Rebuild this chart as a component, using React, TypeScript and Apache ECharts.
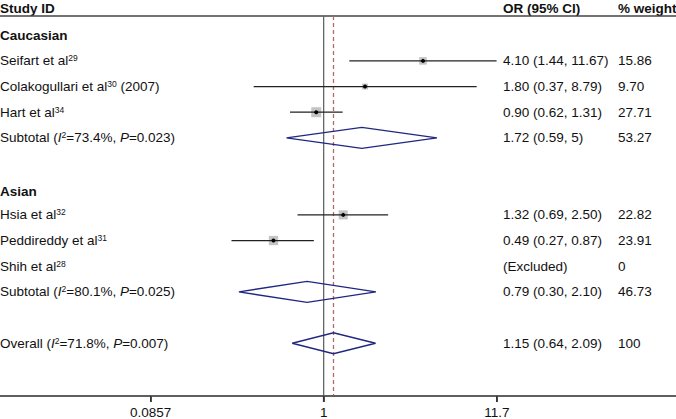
import React, { useEffect, useRef } from "react";
import * as echarts from "echarts";

// ---- data ----
const groupNames = ["Caucasian", "Asian"];
const studyNames = ["Seifart et al", "Colakogullari et al", "Hart et al", "Hsia et al", "Peddireddy et al", "Shih et al"];
const studyRefs = ["29", "30", "34", "32", "31", "28"];
const studySuffix = ["", " (2007)", "", "", "", ""];
const studyOR = [4.10, 1.80, 0.90, 1.32, 0.49, null];
const studyLo = [1.44, 0.37, 0.62, 0.69, 0.27, null];
const studyHi = [11.67, 8.79, 1.31, 2.50, 0.87, null];
const studyCI = ["4.10 (1.44, 11.67)", "1.80 (0.37, 8.79)", "0.90 (0.62, 1.31)", "1.32 (0.69, 2.50)", "0.49 (0.27, 0.87)", "(Excluded)"];
const studyWeight = ["15.86", "9.70", "27.71", "22.82", "23.91", "0"];

const pooledNames = ["Subtotal", "Subtotal", "Overall"];
const pooledI2 = ["73.4%", "80.1%", "71.8%"];
const pooledP = ["0.023", "0.025", "0.007"];
const pooledOR = [1.72, 0.79, 1.15];
const pooledLo = [0.59, 0.30, 0.64];
const pooledHi = [5, 2.10, 2.09];
const pooledCI = ["1.72 (0.59, 5)", "0.79 (0.30, 2.10)", "1.15 (0.64, 2.09)"];
const pooledWeight = ["53.27", "46.73", "100"];

const tickValues = [0.0857, 1, 11.7];
const tickLabels = ["0.0857", "1", "11.7"];
const headers = ["Study ID", "OR (95% CI)", "% weight"];

// ---- layout (row slots, not data) ----
const groupRows = [0, 6.1];
const studyRows = [1, 2, 3, 7, 8, 9];
const pooledRows = [4, 10, 12];

const FONT = "'Liberation Sans', Arial, Helvetica, sans-serif";
const FS = 13.5;
const L = Math.log10;

export default function App() {
  const ref = useRef<HTMLDivElement>(null);
  useEffect(() => {
    document.body.style.margin = "0";
    const chart = echarts.init(ref.current!, null, { renderer: "svg" });
    const W = 676;
    const COL_CI = 503;
    const COL_W = 618;
    const X_MIN = -1.997;
    const X_MAX = 2.174;
    const Y_MIN = -1.372;
    const rich = {
      sup: { fontSize: 8.5, verticalAlign: "top", lineHeight: 9, fontFamily: FONT, fill: "#111" },
      it: { fontStyle: "italic", fontSize: FS, fontFamily: FONT, fill: "#111" },
      b: { fontWeight: "bold", fontSize: FS, fontFamily: FONT, fill: "#111" },
    };

    const textRows: any[] = [];
    groupNames.forEach((g, i) => textRows.push([groupRows[i], `{b|${g}}`, "", ""]));
    studyNames.forEach((n, i) =>
      textRows.push([studyRows[i], `${n}{sup|${studyRefs[i]}}${studySuffix[i]}`, studyCI[i], studyWeight[i]])
    );
    pooledNames.forEach((n, i) =>
      textRows.push([pooledRows[i], `${n} ({it|I}{sup|2}=${pooledI2[i]}, {it|P}=${pooledP[i]})`, pooledCI[i], pooledWeight[i]])
    );

    const studyData = studyOR
      .map((v, i) => (v == null ? null : [L(v), L(studyLo[i]!), L(studyHi[i]!), studyRows[i], parseFloat(studyWeight[i])]))
      .filter(Boolean);
    const pooledData = pooledOR.map((v, i) => [L(v), L(pooledLo[i]), L(pooledHi[i]), pooledRows[i]]);

    const TOP_ROW = -0.75;
    const BOTTOM_ROW = 14.057;

    const baseGraphic: any[] = [
      { type: "text", x: 0, y: 1, style: { text: headers[0], font: `bold ${FS}px ${FONT}`, fill: "#111" } },
      { type: "text", x: COL_CI, y: 1, style: { text: headers[1], font: `bold ${FS}px ${FONT}`, fill: "#111" } },
      { type: "text", x: COL_W, y: 1, style: { text: headers[2], font: `bold ${FS}px ${FONT}`, fill: "#111" } },
      { type: "line", shape: { x1: 0, y1: 16, x2: W, y2: 16 }, style: { stroke: "#444", lineWidth: 1.3 } },
    ];

    const option: any = {
      animation: false,
      grid: { left: 0, right: 0, top: 0, bottom: 22, containLabel: false },
      xAxis: {
        type: "value",
        position: "bottom",
        min: X_MIN,
        max: X_MAX,
        splitLine: { show: false },
        axisLine: { show: true, onZero: false, lineStyle: { color: "#555", width: 1.6 } },
        axisTick: { show: true, customValues: tickValues.map(L), length: 6, lineStyle: { color: "#333", width: 1.5 } },
        axisLabel: {
          show: true,
          customValues: tickValues.map(L),
          margin: 9,
          fontSize: FS,
          fontFamily: FONT,
          color: "#111",
          formatter: (v: number) => {
            let best = 0;
            tickValues.forEach((t, i) => {
              if (Math.abs(L(t) - v) < Math.abs(L(tickValues[best]) - v)) best = i;
            });
            return tickLabels[best];
          },
        },
      },
      yAxis: { type: "value", inverse: true, min: Y_MIN, max: BOTTOM_ROW, show: false },
      graphic: baseGraphic,
      series: [
        {
          // reference line at OR=1 and dashed overall-estimate line
          type: "custom",
          clip: false,
          data: [[0, 0], [L(pooledOR[2]), 1]],
          renderItem: (params: any, api: any) => {
            const x = api.value(0);
            const kind = api.value(1);
            const p1 = api.coord([x, TOP_ROW]);
            const p2 = api.coord([x, BOTTOM_ROW]);
            return {
              type: "line",
              shape: { x1: p1[0], y1: p1[1], x2: p2[0], y2: p2[1] },
              style:
                kind === 0
                  ? { stroke: "#666", lineWidth: 1.3 }
                  : { stroke: "#b56a6a", lineWidth: 1.3, lineDash: [4, 3] },
            };
          },
        },
        {
          type: "custom",
          clip: false,
          data: studyData,
          renderItem: (params: any, api: any) => {
            const est = api.coord([api.value(0), api.value(3)]);
            const lo = api.coord([api.value(1), api.value(3)]);
            const hi = api.coord([api.value(2), api.value(3)]);
            const s = 1.9 * Math.sqrt(api.value(4));
            return {
              type: "group",
              children: [
                { type: "rect", shape: { x: est[0] - s / 2, y: est[1] - s / 2, width: s, height: s }, style: { fill: "#c4c4c4" } },
                { type: "line", shape: { x1: lo[0], y1: lo[1], x2: hi[0], y2: hi[1] }, style: { stroke: "#222", lineWidth: 1.3 } },
                { type: "circle", shape: { cx: est[0], cy: est[1], r: 2 }, style: { fill: "#000" } },
              ],
            };
          },
        },
        {
          type: "custom",
          clip: false,
          data: pooledData,
          renderItem: (params: any, api: any) => {
            const est = api.coord([api.value(0), api.value(3)]);
            const lo = api.coord([api.value(1), api.value(3)]);
            const hi = api.coord([api.value(2), api.value(3)]);
            const h = 10.5;
            return {
              type: "polygon",
              shape: { points: [[lo[0], lo[1]], [est[0], est[1] - h], [hi[0], hi[1]], [est[0], est[1] + h]] },
              style: { fill: "none", stroke: "#1f2780", lineWidth: 1.4 },
            };
          },
        },
        {
          type: "custom",
          clip: false,
          data: textRows,
          renderItem: (params: any, api: any) => {
            const row = textRows[params.dataIndex];
            const y = api.coord([0, row[0]])[1];
            const base = { fontSize: FS, fontFamily: FONT, fill: "#111", verticalAlign: "middle", align: "left" };
            return {
              type: "group",
              children: [
                { type: "text", x: 0, y, style: { ...base, text: row[1], rich } },
                { type: "text", x: COL_CI, y, style: { ...base, text: row[2] } },
                { type: "text", x: COL_W, y, style: { ...base, text: row[3] } },
              ],
            };
          },
        },
      ],
    };
    chart.setOption(option);

    // x axis line and ticks as graphic lines, positioned through the chart's own scales
    const toNum = (v: any, fb: number) => {
      const n = Array.isArray(v) ? Number(v[0]) : Number(v);
      return Number.isFinite(n) ? n : fb;
    };
    const plotH = chart.getHeight() - 22;
    const axisY = toNum(chart.convertToPixel({ yAxisIndex: 0 }, BOTTOM_ROW), plotH);
    const scaleX = (v: number) => ((v - X_MIN) / (X_MAX - X_MIN)) * W;
    const axisGraphic: any[] = [
      { type: "line", shape: { x1: 0, y1: axisY, x2: W, y2: axisY }, style: { stroke: "#555", lineWidth: 1.6 }, z: 100 },
      ...tickValues.map((t) => {
        const px = toNum(chart.convertToPixel({ xAxisIndex: 0 }, L(t)), scaleX(L(t)));
        return { type: "line", shape: { x1: px, y1: axisY, x2: px, y2: axisY + 6 }, style: { stroke: "#333", lineWidth: 1.5 }, z: 100 };
      }),
    ];
    chart.setOption({ graphic: [...baseGraphic, ...axisGraphic] });

    return () => chart.dispose();
  }, []);
  return <div ref={ref} style={{ width: 676, height: 419 }} />;
}
